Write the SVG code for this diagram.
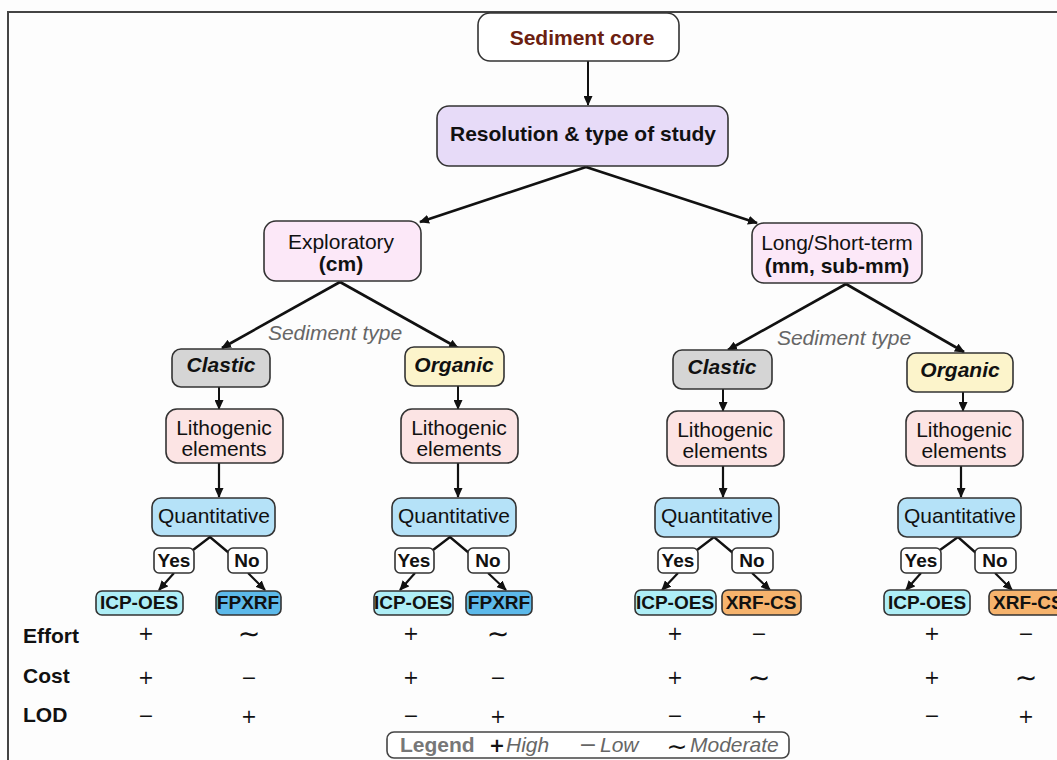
<svg xmlns="http://www.w3.org/2000/svg" width="1057" height="760" viewBox="0 0 1057 760">
<defs>
<marker id="ah" markerUnits="userSpaceOnUse" markerWidth="10" markerHeight="9" refX="9" refY="4.5" orient="auto"><path d="M0,0 L10,4.5 L0,9 z" fill="#111"/></marker>
<style>
.bx{stroke:#333;stroke-width:1.6}
.t{font-family:"Liberation Sans",Arial,sans-serif;font-size:21px;fill:#111;text-anchor:middle}
.b{font-weight:bold}
.bi{font-weight:bold;font-style:italic}
.s{font-family:"Liberation Sans",Arial,sans-serif;font-size:19px;font-weight:bold;fill:#111;text-anchor:middle}
.gi{font-family:"Liberation Sans",Arial,sans-serif;font-size:21px;font-style:italic;fill:#666;text-anchor:middle}
.lab{font-family:"Liberation Sans",Arial,sans-serif;font-size:21px;font-weight:bold;fill:#111}
.sym{font-family:"DejaVu Sans","Liberation Sans",sans-serif;font-size:19px;fill:#111;text-anchor:middle}
.tl{font-family:"DejaVu Sans","Liberation Sans",sans-serif;font-size:27px;fill:#111;text-anchor:middle}
.c{stroke:#111;fill:none}
.w{fill:#fff}
.lav{fill:#e7dbf8}
.pk{fill:#fce8f8}
.gr{fill:#d5d5d5}
.ye{fill:#fcf4cb}
.li{fill:#fce4e4}
.qu{fill:#b5e2f8}
.icp{fill:#aeeef6}
.fp{fill:#5cb9ea}
.xc{fill:#f6b36d}
</style>
</defs>
<rect x="0" y="0" width="1057" height="760" fill="#fdfdfd"/>
<rect x="8" y="12" width="1070" height="770" fill="none" stroke="#444" stroke-width="2"/>

<g id="connectors">
<line class="c" x1="588" y1="61" x2="588" y2="105" stroke-width="2" marker-end="url(#ah)"/>
<line class="c" x1="586" y1="167" x2="420" y2="222" stroke-width="2.6" marker-end="url(#ah)"/>
<line class="c" x1="586" y1="167" x2="757" y2="223" stroke-width="2.6" marker-end="url(#ah)"/>
<line class="c" x1="340" y1="282" x2="222" y2="348" stroke-width="2.6" marker-end="url(#ah)"/>
<line class="c" x1="340" y1="282" x2="458" y2="348" stroke-width="2.6" marker-end="url(#ah)"/>
<line class="c" x1="846" y1="284" x2="728" y2="350" stroke-width="2.6" marker-end="url(#ah)"/>
<line class="c" x1="846" y1="284" x2="964" y2="352" stroke-width="2.6" marker-end="url(#ah)"/>
<line class="c" x1="219" y1="387" x2="219" y2="409" stroke-width="2" marker-end="url(#ah)"/>
<line class="c" x1="458" y1="386" x2="458" y2="409" stroke-width="2" marker-end="url(#ah)"/>
<line class="c" x1="723" y1="389" x2="723" y2="411" stroke-width="2" marker-end="url(#ah)"/>
<line class="c" x1="963" y1="392" x2="963" y2="411" stroke-width="2" marker-end="url(#ah)"/>
<line class="c" x1="219" y1="463" x2="219" y2="497" stroke-width="2.2" marker-end="url(#ah)"/>
<line class="c" x1="458" y1="463" x2="458" y2="497" stroke-width="2.2" marker-end="url(#ah)"/>
<line class="c" x1="723" y1="466" x2="723" y2="497" stroke-width="2.2" marker-end="url(#ah)"/>
<line class="c" x1="961" y1="466" x2="961" y2="497" stroke-width="2.2" marker-end="url(#ah)"/>
<polyline class="c" points="193,550 210,537 229,553" stroke-width="2.4"/>
<polyline class="c" points="433,550 450,537 469,553" stroke-width="2.4"/>
<polyline class="c" points="697,550 714,537 733,553" stroke-width="2.4"/>
<polyline class="c" points="940,550 958,537 976,553" stroke-width="2.4"/>
<line class="c" x1="174" y1="573" x2="159" y2="590" stroke-width="2.2" marker-end="url(#ah)"/>
<line class="c" x1="248" y1="573" x2="265" y2="590" stroke-width="2.2" marker-end="url(#ah)"/>
<line class="c" x1="415" y1="573" x2="400" y2="590" stroke-width="2.2" marker-end="url(#ah)"/>
<line class="c" x1="488" y1="573" x2="506" y2="590" stroke-width="2.2" marker-end="url(#ah)"/>
<line class="c" x1="678" y1="573" x2="662" y2="590" stroke-width="2.2" marker-end="url(#ah)"/>
<line class="c" x1="752" y1="573" x2="770" y2="590" stroke-width="2.2" marker-end="url(#ah)"/>
<line class="c" x1="921" y1="573" x2="906" y2="590" stroke-width="2.2" marker-end="url(#ah)"/>
<line class="c" x1="995" y1="573" x2="1012" y2="590" stroke-width="2.2" marker-end="url(#ah)"/>
</g>

<g id="sediment-core"><rect class="bx w" x="478" y="13" width="201" height="48" rx="12"/><text class="t b" x="582" y="45" style="fill:#6b2010">Sediment core</text></g>
<g id="resolution"><rect class="bx lav" x="437" y="106" width="291" height="60" rx="12"/><text class="t b" x="583" y="141">Resolution &amp; type of study</text></g>
<g id="exploratory"><rect class="bx pk" x="264" y="221" width="157" height="60" rx="12"/><text class="t" x="341" y="249">Exploratory</text><text class="t b" x="341" y="271">(cm)</text></g>
<g id="longshort"><rect class="bx pk" x="752" y="223" width="170" height="60" rx="12"/><text class="t" x="837" y="250">Long/Short-term</text><text class="t b" x="837" y="273">(mm, sub-mm)</text></g>
<text class="gi" x="335" y="340">Sediment type</text>
<text class="gi" x="844" y="345">Sediment type</text>

<g id="clastic1"><rect class="bx gr" x="172" y="349" width="98" height="38" rx="9"/><text class="t bi" x="221" y="372">Clastic</text></g>
<g id="organic1"><rect class="bx ye" x="405" y="347" width="99" height="39" rx="9"/><text class="t bi" x="454" y="372">Organic</text></g>
<g id="clastic2"><rect class="bx gr" x="673" y="350" width="99" height="39" rx="9"/><text class="t bi" x="722" y="374">Clastic</text></g>
<g id="organic2"><rect class="bx ye" x="907" y="353" width="106" height="39" rx="9"/><text class="t bi" x="960" y="377">Organic</text></g>

<g id="litho1"><rect class="bx li" x="166" y="409" width="117" height="54" rx="11"/><text class="t" x="224" y="435">Lithogenic</text><text class="t" x="224" y="456">elements</text></g>
<g id="litho2"><rect class="bx li" x="401" y="409" width="117" height="54" rx="11"/><text class="t" x="459" y="435">Lithogenic</text><text class="t" x="459" y="456">elements</text></g>
<g id="litho3"><rect class="bx li" x="667" y="411" width="117" height="55" rx="11"/><text class="t" x="725" y="437">Lithogenic</text><text class="t" x="725" y="458">elements</text></g>
<g id="litho4"><rect class="bx li" x="906" y="411" width="117" height="55" rx="11"/><text class="t" x="964" y="437">Lithogenic</text><text class="t" x="964" y="458">elements</text></g>

<g id="quant1"><rect class="bx qu" x="152" y="498" width="123" height="38" rx="9"/><text class="t" x="214" y="523">Quantitative</text></g>
<g id="quant2"><rect class="bx qu" x="392" y="498" width="124" height="38" rx="9"/><text class="t" x="454" y="523">Quantitative</text></g>
<g id="quant3"><rect class="bx qu" x="655" y="498" width="124" height="39" rx="9"/><text class="t" x="717" y="523">Quantitative</text></g>
<g id="quant4"><rect class="bx qu" x="898" y="498" width="123" height="39" rx="9"/><text class="t" x="960" y="523">Quantitative</text></g>

<g id="yes1"><rect class="bx w" x="154" y="548" width="40" height="25" rx="5"/><text class="s" x="174" y="567">Yes</text></g>
<g id="no1"><rect class="bx w" x="228" y="548" width="39" height="25" rx="5"/><text class="s" x="247" y="567">No</text></g>
<g id="yes2"><rect class="bx w" x="395" y="548" width="39" height="25" rx="5"/><text class="s" x="414" y="567">Yes</text></g>
<g id="no2"><rect class="bx w" x="468" y="548" width="41" height="25" rx="5"/><text class="s" x="488" y="567">No</text></g>
<g id="yes3"><rect class="bx w" x="658" y="548" width="40" height="25" rx="5"/><text class="s" x="678" y="567">Yes</text></g>
<g id="no3"><rect class="bx w" x="732" y="548" width="41" height="25" rx="5"/><text class="s" x="752" y="567">No</text></g>
<g id="yes4"><rect class="bx w" x="901" y="548" width="40" height="25" rx="5"/><text class="s" x="921" y="567">Yes</text></g>
<g id="no4"><rect class="bx w" x="975" y="548" width="41" height="25" rx="5"/><text class="s" x="995" y="567">No</text></g>

<g id="icp1"><rect class="bx icp" x="96" y="591" width="87" height="24" rx="6"/><text class="s" x="139" y="609">ICP-OES</text></g>
<g id="fp1"><rect class="bx fp" x="216" y="591" width="65" height="24" rx="6"/><text class="s" x="248" y="609">FPXRF</text></g>
<g id="icp2"><rect class="bx icp" x="374" y="591" width="79" height="24" rx="6"/><text class="s" x="413" y="609">ICP-OES</text></g>
<g id="fp2"><rect class="bx fp" x="466" y="591" width="66" height="24" rx="6"/><text class="s" x="499" y="609">FPXRF</text></g>
<g id="icp3"><rect class="bx icp" x="635" y="590" width="81" height="25" rx="6"/><text class="s" x="675" y="609">ICP-OES</text></g>
<g id="xc3"><rect class="bx xc" x="722" y="590" width="79" height="25" rx="6"/><text class="s" x="761" y="609">XRF-CS</text></g>
<g id="icp4"><rect class="bx icp" x="884" y="590" width="86" height="25" rx="6"/><text class="s" x="927" y="609">ICP-OES</text></g>
<g id="xc4"><rect class="bx xc" x="989" y="590" width="90" height="25" rx="6"/><text class="s" x="993" y="609" style="text-anchor:start">XRF-CS</text></g>

<g id="table">
<text class="lab" x="23" y="643">Effort</text>
<text class="lab" x="23" y="683">Cost</text>
<text class="lab" x="23" y="722">LOD</text>
<g>
<text class="sym" x="146" y="640">+</text><text class="tl" x="249" y="643">∼</text><text class="sym" x="411" y="640">+</text><text class="tl" x="498" y="643">∼</text><text class="sym" x="675" y="640">+</text><text class="sym" x="759" y="640">−</text><text class="sym" x="932" y="640">+</text><text class="sym" x="1026" y="640">−</text>
<text class="sym" x="146" y="684">+</text><text class="sym" x="249" y="684">−</text><text class="sym" x="411" y="684">+</text><text class="sym" x="498" y="684">−</text><text class="sym" x="675" y="684">+</text><text class="tl" x="759" y="687">∼</text><text class="sym" x="932" y="684">+</text><text class="tl" x="1026" y="687">∼</text>
<text class="sym" x="146" y="722">−</text><text class="sym" x="249" y="723">+</text><text class="sym" x="411" y="722">−</text><text class="sym" x="498" y="723">+</text><text class="sym" x="675" y="722">−</text><text class="sym" x="759" y="723">+</text><text class="sym" x="932" y="722">−</text><text class="sym" x="1026" y="723">+</text>
</g>
</g>

<g id="legend">
<rect x="387" y="732" width="402" height="26" rx="7" fill="#fff" stroke="#444" stroke-width="1.6"/>
<text class="lab" x="400" y="752" style="fill:#777">Legend</text>
<text class="sym" x="497" y="752" style="font-weight:bold">+</text>
<text class="gi" x="506" y="752" style="text-anchor:start">High</text>
<text class="sym" x="588" y="752" style="fill:#666;font-size:22px">−</text>
<text class="gi" x="600" y="752" style="text-anchor:start">Low</text>
<text class="tl" x="677" y="755" style="font-size:25px">∼</text>
<text class="gi" x="690" y="752" style="text-anchor:start">Moderate</text>
</g>
</svg>
